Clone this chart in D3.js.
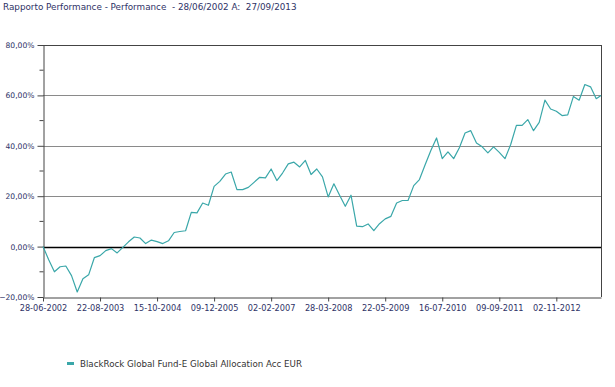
<!DOCTYPE html>
<html>
<head>
<meta charset="utf-8">
<script src="https://cdn.jsdelivr.net/npm/d3@7"></script>
<style>
  body { margin: 0; background: #fff; }
  text { font-family: "DejaVu Sans", sans-serif; }
</style>
</head>
<body>
<div class="chart"></div>
<script>
// Data (every 6 weeks)
const dates = [
  "2002-06-28","2002-08-09","2002-09-20","2002-11-01","2002-12-13","2003-01-24","2003-03-07","2003-04-18","2003-05-30","2003-07-11",
  "2003-08-22","2003-10-03","2003-11-14","2003-12-26","2004-02-06","2004-03-19","2004-04-30","2004-06-11","2004-07-23","2004-09-03",
  "2004-10-15","2004-11-26","2005-01-07","2005-02-18","2005-04-01","2005-05-13","2005-06-24","2005-08-05","2005-09-16","2005-10-28",
  "2005-12-09","2006-01-20","2006-03-03","2006-04-14","2006-05-26","2006-07-07","2006-08-18","2006-09-29","2006-11-10","2006-12-22",
  "2007-02-02","2007-03-16","2007-04-27","2007-06-08","2007-07-20","2007-08-31","2007-10-12","2007-11-23","2008-01-04","2008-02-15",
  "2008-03-28","2008-05-09","2008-06-20","2008-08-01","2008-09-12","2008-10-24","2008-12-05","2009-01-16","2009-02-27","2009-04-10",
  "2009-05-22","2009-07-03","2009-08-14","2009-09-25","2009-11-06","2009-12-18","2010-01-29","2010-03-12","2010-04-23","2010-06-04",
  "2010-07-16","2010-08-27","2010-10-08","2010-11-19","2010-12-31","2011-02-11","2011-03-25","2011-05-06","2011-06-17","2011-07-29",
  "2011-09-09","2011-10-21","2011-12-02","2012-01-13","2012-02-24","2012-04-06","2012-05-18","2012-06-29","2012-08-10","2012-09-21",
  "2012-11-02","2012-12-14","2013-01-25","2013-03-08","2013-04-19","2013-05-31","2013-07-12","2013-08-23","2013-09-27"
];
const values = [
  0, -5.2, -10, -8, -7.7, -11.5, -18, -12.8, -11.2, -4.4,
  -3.6, -1.6, -0.8, -2.5, -0.3, 1.9, 3.8, 3.4, 1.2, 2.6,
  2.0, 1.2, 2.3, 5.6, 6.0, 6.3, 13.6, 13.4, 17.3, 16.4,
  23.9, 25.9, 28.8, 29.6, 22.6, 22.6, 23.5, 25.5, 27.5, 27.3,
  30.8, 26.2, 29.2, 32.8, 33.5, 31.6, 34.2, 28.6, 30.8, 27.7,
  19.7, 24.9, 20.4, 16, 20.4, 8.1, 7.9, 9, 6.3, 9.1,
  11, 12, 17.3, 18.3, 18.3, 24.2, 26.6, 32.5, 38.1, 43.1,
  34.9, 37.6, 34.9, 39.2, 45.1, 46, 41.1, 39.6, 37.2, 39.6,
  37.4, 34.9, 40.5, 48.1, 48.1, 50.4, 46, 49.3, 58.1, 54.6,
  53.7, 52, 52.3, 59.6, 58.1, 64.3, 63.4, 58.7, 60
];
const xTickLabels = ["28-06-2002","22-08-2003","15-10-2004","09-12-2005","02-02-2007",
  "28-03-2008","22-05-2009","16-07-2010","09-09-2011","02-11-2012"];
const yTicks = [-20, 0, 20, 40, 60, 80];
const yMinorTicks = [-10, 10, 30, 50, 70];
const seriesName = "BlackRock Global Fund-E Global Allocation Acc EUR";
const title = "Rapporto Performance - Performance  - 28/06/2002 A:  27/09/2013";

const parse = d3.timeParse("%Y-%m-%d");
const parseTick = d3.timeParse("%d-%m-%Y");
const data = dates.map((d, i) => ({date: parse(d), value: values[i]}));

const W = 615, H = 387;
const margin = {top: 45, left: 43, right: 14, bottom: 90};
const width = W - margin.left - margin.right;
const height = H - margin.top - margin.bottom;

const labelColor = "#2e3266";
const lineColor = "#3aa7a9";

const root = d3.select(".chart").append("svg")
    .attr("width", W)
    .attr("height", H);

root.append("text")
    .attr("x", 3)
    .attr("y", 10)
    .attr("font-size", 8.8)
    .attr("fill", labelColor)
    .attr("xml:space", "preserve")
    .style("white-space", "pre")
    .text(title);

const svg = root.append("g")
    .attr("transform", `translate(${margin.left},${margin.top})`);

const xScale = d3.scaleTime()
    .domain(d3.extent(data, d => d.date))
    .range([0, width]);

const yScale = d3.scaleLinear()
    .domain([-20, 80])
    .range([height, 0]);

// gridlines
svg.append("g")
    .selectAll("line")
    .data(yTicks.filter(t => t !== -20))
    .join("line")
    .attr("x1", 0)
    .attr("x2", width)
    .attr("y1", d => Math.round(yScale(d)) + 0.5)
    .attr("y2", d => Math.round(yScale(d)) + 0.5)
    .attr("stroke", d => d === 0 ? "#000" : (d === 80 ? "#444" : "#8a8a8a"))
    .attr("stroke-width", d => d === 0 ? 1.4 : 1);

// right border
svg.append("line")
    .attr("x1", width + 0.5).attr("x2", width + 0.5)
    .attr("y1", yScale(80)).attr("y2", yScale(-20))
    .attr("stroke", "#444");

// y axis
const fmt = v => d3.format(".2f")(v).replace(".", ",") + "%";
const yAxis = d3.axisLeft(yScale)
    .tickValues(yTicks)
    .tickSize(6)
    .tickSizeOuter(0)
    .tickFormat(fmt);

const yg = svg.append("g")
    .attr("transform", "translate(0.5,0)")
    .call(yAxis);
yg.select(".domain").attr("stroke", "#444");
yg.selectAll(".tick line").attr("stroke", "#444");
yg.selectAll(".tick text")
    .attr("font-family", "DejaVu Sans")
    .attr("font-size", 7.6)
    .attr("fill", labelColor)
    .attr("x", -9);

svg.append("g")
    .selectAll("line")
    .data(yMinorTicks)
    .join("line")
    .attr("x1", -3.5).attr("x2", 0.5)
    .attr("y1", d => yScale(d)).attr("y2", d => yScale(d))
    .attr("stroke", "#444");

// x axis
const xAxis = d3.axisBottom(xScale)
    .tickValues(xTickLabels.map(parseTick))
    .tickSize(4)
    .tickSizeOuter(0)
    .tickFormat(d3.timeFormat("%d-%m-%Y"));

const xg = svg.append("g")
    .attr("transform", `translate(0,${height + 0.5})`)
    .call(xAxis);
xg.select(".domain").attr("stroke", "#444");
xg.selectAll(".tick line").attr("stroke", "#444");
xg.selectAll(".tick text")
    .attr("font-family", "DejaVu Sans")
    .attr("font-size", 8.2)
    .attr("fill", labelColor)
    .attr("y", 8);

// line
const line = d3.line()
    .x(d => xScale(d.date))
    .y(d => yScale(d.value));

svg.append("path")
    .datum(data)
    .attr("fill", "none")
    .attr("stroke", lineColor)
    .attr("stroke-width", 1.2)
    .attr("stroke-linejoin", "round")
    .attr("d", line);

// legend
const legend = root.append("g")
    .attr("transform", "translate(67,362)");
legend.append("rect")
    .attr("width", 7)
    .attr("height", 3)
    .attr("fill", lineColor);
legend.append("text")
    .attr("x", 13)
    .attr("y", 5)
    .attr("font-size", 8.7)
    .attr("fill", "#333")
    .text(seriesName);
</script>
</body>
</html>
